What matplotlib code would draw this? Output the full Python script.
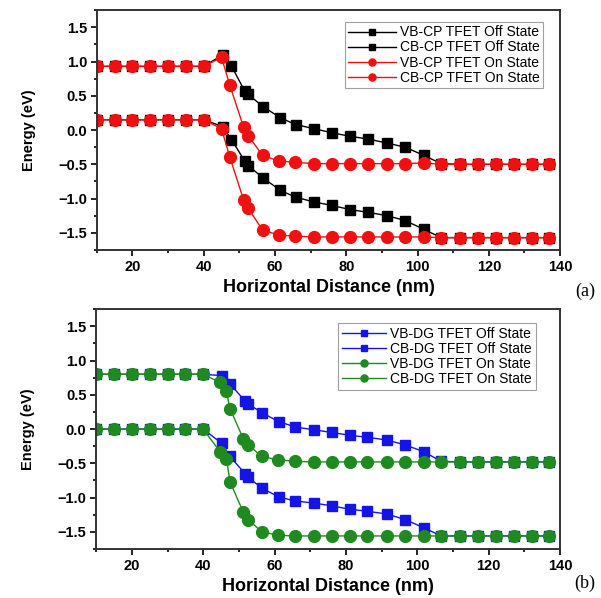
import matplotlib
matplotlib.use('Agg')
import matplotlib.pyplot as plt
from matplotlib.ticker import MultipleLocator

plt.rcParams['font.family'] = ['Liberation Sans', 'DejaVu Sans']

# Panel (a) - CP TFET
x_off_cp = [10, 15, 20, 25, 30, 35, 40, 45.4, 47.8, 51.5, 52.5, 56.7, 61.5, 65.8, 71, 76, 81, 86,
            91.5, 96.5, 101.8, 106.6, 112, 117, 122, 127, 132, 137]
cb_off_cp = [0.93, 0.93, 0.93, 0.93, 0.93, 0.93, 0.93, 1.10, 0.935, 0.57, 0.52, 0.34, 0.18, 0.08,
             0.02, -0.04, -0.09, -0.13, -0.19, -0.25, -0.37, -0.49, -0.50, -0.50, -0.50, -0.50, -0.50, -0.50]
vb_off_cp = [0.15, 0.15, 0.15, 0.15, 0.15, 0.15, 0.15, 0.05, -0.14, -0.45, -0.52, -0.70, -0.88, -0.98,
             -1.05, -1.10, -1.16, -1.20, -1.25, -1.32, -1.45, -1.57, -1.57, -1.57, -1.57, -1.57, -1.57, -1.57]

x_on_cp = [10, 15, 20, 25, 30, 35, 40, 45, 47.3, 51.2, 52.5, 56.5, 61, 65.5, 71, 76, 81, 86,
           91.5, 96.5, 101.8, 106.6, 112, 117, 122, 127, 132, 137]
cb_on_cp = [0.93, 0.93, 0.93, 0.93, 0.93, 0.93, 0.93, 1.06, 0.66, 0.04, -0.08, -0.37, -0.45, -0.47,
            -0.49, -0.49, -0.49, -0.49, -0.49, -0.49, -0.48, -0.50, -0.50, -0.50, -0.50, -0.50, -0.50, -0.50]
vb_on_cp = [0.15, 0.15, 0.15, 0.15, 0.15, 0.15, 0.15, 0.02, -0.39, -1.02, -1.14, -1.46, -1.53, -1.55,
            -1.56, -1.56, -1.56, -1.56, -1.56, -1.56, -1.56, -1.57, -1.57, -1.57, -1.57, -1.57, -1.57, -1.57]

# Panel (b) - DG TFET
x_off_dg = [10, 15, 20, 25, 30, 35, 40, 45.2, 47.5, 51.7, 52.5, 56.4, 61.1, 65.8, 71, 76, 81, 86,
            91.5, 96.5, 101.8, 106.6, 112, 117, 122, 127, 132, 137]
cb_off_dg = [0.80, 0.80, 0.80, 0.80, 0.80, 0.80, 0.80, 0.78, 0.66, 0.41, 0.37, 0.24, 0.11, 0.03,
             -0.01, -0.05, -0.09, -0.12, -0.16, -0.23, -0.33, -0.47, -0.48, -0.48, -0.48, -0.48, -0.48, -0.48]
vb_off_dg = [0.0, 0.0, 0.0, 0.0, 0.0, 0.0, 0.0, -0.21, -0.40, -0.65, -0.70, -0.86, -0.99, -1.05,
             -1.08, -1.12, -1.17, -1.20, -1.24, -1.32, -1.44, -1.56, -1.56, -1.56, -1.56, -1.56, -1.56, -1.56]

x_on_dg = [10, 15, 20, 25, 30, 35, 40, 44.7, 46.5, 47.5, 51.2, 52.6, 56.4, 61, 65.6, 71, 76, 81, 86,
           91.5, 96.5, 101.8, 106.6, 112, 117, 122, 127, 132, 137]
cb_on_dg = [0.80, 0.80, 0.80, 0.80, 0.80, 0.80, 0.80, 0.68, 0.55, 0.30, -0.14, -0.23, -0.40, -0.45,
            -0.47, -0.48, -0.48, -0.48, -0.48, -0.48, -0.48, -0.48, -0.48, -0.48, -0.48, -0.48, -0.48, -0.48, -0.48]
vb_on_dg = [0.0, 0.0, 0.0, 0.0, 0.0, 0.0, 0.0, -0.33, -0.43, -0.77, -1.21, -1.32, -1.50, -1.55,
            -1.56, -1.56, -1.56, -1.56, -1.56, -1.56, -1.56, -1.56, -1.56, -1.56, -1.56, -1.56, -1.56, -1.56, -1.56]

RED = '#f01010'
BLUE = '#1414e6'
GREEN = '#1f8a1f'

fig = plt.figure(figsize=(6.01, 5.98), dpi=100)
ax1 = fig.add_axes([0.161, 0.582, 0.771, 0.401])
ax2 = fig.add_axes([0.160, 0.082, 0.772, 0.401])


def style_axes(ax):
    ax.set_xlim(10, 140)
    ax.set_ylim(-1.75, 1.75)
    ax.xaxis.set_major_locator(MultipleLocator(20))
    ax.xaxis.set_minor_locator(MultipleLocator(10))
    ax.yaxis.set_major_locator(MultipleLocator(0.5))
    ax.yaxis.set_minor_locator(MultipleLocator(0.25))
    ax.tick_params(which='both', direction='out', top=False, right=False, width=1.2)
    ax.tick_params(which='major', length=4, labelsize=10.5, pad=3)
    ax.tick_params(which='minor', length=2.5)
    for lab in ax.get_xticklabels() + ax.get_yticklabels():
        lab.set_fontweight('bold')
    for sp in ax.spines.values():
        sp.set_linewidth(1.4)
        sp.set_color('#333333')
    ax.set_xlabel('Horizontal Distance (nm)', fontsize=13, fontweight='bold', labelpad=4)
    ax.set_ylabel('Energy (eV)', fontsize=10.5, fontweight='bold', labelpad=16)


# panel (a)
ax1.plot(x_off_cp, vb_off_cp, '-s', color='black', ms=6.5, lw=1, label='VB-CP TFET Off State')
ax1.plot(x_off_cp, cb_off_cp, '-s', color='black', ms=6.5, lw=1, label='CB-CP TFET Off State')
ax1.plot(x_on_cp, vb_on_cp, '-o', color=RED, ms=8.5, lw=1, label='VB-CP TFET On State')
ax1.plot(x_on_cp, cb_on_cp, '-o', color=RED, ms=8.5, lw=1, label='CB-CP TFET On State')
style_axes(ax1)
leg1 = ax1.legend(loc='upper right', bbox_to_anchor=(0.978, 0.98), fontsize=10, frameon=True,
                  fancybox=False, edgecolor='#888888', handlelength=3.4, borderpad=0.25,
                  labelspacing=0.08, handletextpad=0.3, markerscale=0.6)
leg1.get_frame().set_linewidth(0.8)

# panel (b)
ax2.plot(x_off_dg, vb_off_dg, '-s', color=BLUE, ms=6.5, lw=1, label='VB-DG TFET Off State')
ax2.plot(x_off_dg, cb_off_dg, '-s', color=BLUE, ms=6.5, lw=1, label='CB-DG TFET Off State')
ax2.plot(x_on_dg, vb_on_dg, '-o', color=GREEN, ms=8.5, lw=1, label='VB-DG TFET On State')
ax2.plot(x_on_dg, cb_on_dg, '-o', color=GREEN, ms=8.5, lw=1, label='CB-DG TFET On State')
style_axes(ax2)
leg2 = ax2.legend(loc='upper right', bbox_to_anchor=(0.962, 0.97), fontsize=10, frameon=True,
                  fancybox=False, edgecolor='#888888', handlelength=3.2, borderpad=0.25,
                  labelspacing=0.08, handletextpad=0.3, markerscale=0.6)
leg2.get_frame().set_linewidth(0.8)

fig.text(0.973, 0.512, '(a)', fontsize=13, family='Liberation Serif', ha='center', va='center')
fig.text(0.973, 0.025, '(b)', fontsize=13, family='Liberation Serif', ha='center', va='center')

fig.savefig('out.png', dpi=100, facecolor='white')
